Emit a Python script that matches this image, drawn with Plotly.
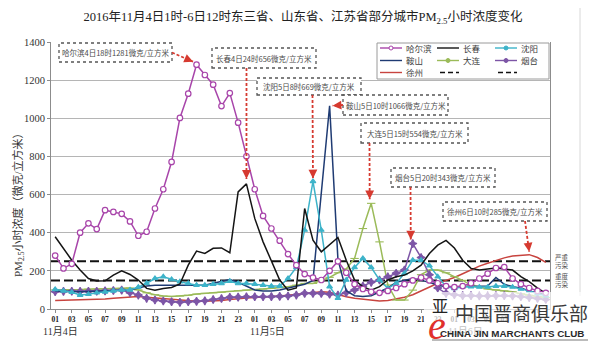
import plotly.graph_objects as go

# ---------------- data ----------------
# hour index 0 = 11月4日01时 ... 59 = 11月6日12时
hours = list(range(60))
tick_vals = list(range(0, 60, 2))
tick_text = [f"{h:02d}" for h in list(range(1, 24, 2)) + list(range(1, 24, 2)) + list(range(1, 12, 2))]
day_labels = ["11月4日", "11月5日", "11月6日"]
day_label_pos = [0.7, 25.5, 49.3]
day_label_colors = ["#333333", "#333333", "#C4C4C4"]  # the last one sits under the watermark

cities = ["哈尔滨", "长春", "沈阳", "鞍山", "大连", "烟台", "徐州"]

harbin = [280, 213, 237, 400, 449, 419, 518, 509, 499, 459, 384, 405, 527, 628, 771,
          1002, 1129, 1281, 1227, 1176, 1064, 1132, 977, 801, 628, 488, 422, 358, 288, 230,
          183, 165, 152, 200, 250, 190, 130, 105, 90, 85, 95, 110, 130, 150, 165,
          150, 135, 120, 115, 120, 135, 160, 185, 215, 220, 160, 130, 110, 95, 85]
changchun = [379, 318, 256, 204, 160, 147, 148, 178, 200, 181, 152, 108, 99, 108, 113,
             131, 230, 304, 291, 318, 320, 295, 614, 656, 475, 352, 248, 152, 99, 110,
             527, 361, 300, 335, 375, 256, 152, 117, 99, 117, 152, 169, 178, 200, 230,
             291, 335, 360, 320, 256, 213, 204, 210, 215, 210, 204, 170, 143, 110, 82]
shenyang = [103, 95, 88, 73, 77, 85, 90, 95, 100, 100, 115, 135, 160, 169, 155,
            143, 134, 125, 125, 130, 134, 146, 134, 134, 130, 125, 120, 120, 160, 218,
            414, 669, 414, 117, 57, 152, 218, 265, 218, 152, 108, 134, 187, 256, 256,
            227, 169, 117, 108, 117, 117, 115, 115, 120, 120, 115, 105, 95, 80, 70]
anshan = [95, 95, 92, 90, 92, 95, 95, 97, 100, 100, 110, 120, 125, 125, 125,
          125, 125, 122, 125, 135, 145, 155, 140, 118, 100, 95, 95, 100, 110, 120,
          130, 150, 600, 1066, 260, 95, 70, 65, 70, 90, 110, 140, 152, 160, 150,
          140, 125, 117, 117, 117, 117, 117, 120, 165, 130, 117, 110, 95, 85, 75]
dalian = [100, 100, 100, 102, 104, 105, 105, 107, 108, 110, 100, 85, 75, 68, 66,
          68, 72, 78, 82, 85, 88, 92, 96, 99, 102, 105, 108, 112, 117, 125,
          134, 134, 152, 166, 190, 210, 265, 422, 554, 352, 126, 47, 47, 99, 180,
          204, 204, 190, 170, 150, 125, 115, 105, 100, 95, 90, 80, 72, 65, 60]
yantai = [91, 92, 93, 92, 92, 93, 95, 97, 99, 85, 73, 56, 47, 42, 38,
          35, 38, 40, 43, 50, 55, 61, 62, 64, 64, 64, 65, 66, 68, 73,
          82, 82, 82, 78, 73, 85, 100, 120, 140, 152, 169, 187, 204, 343, 270,
          180, 110, 82, 75, 70, 70, 68, 68, 70, 70, 68, 65, 60, 55, 50]
xuzhou = [44, 45, 46, 47, 49, 51, 53, 56, 60, 63, 65, 62, 58, 54, 50,
          46, 43, 40, 40, 42, 45, 50, 55, 58, 60, 62, 64, 68, 72, 76,
          80, 85, 90, 88, 75, 64, 56, 50, 45, 42, 45, 52, 62, 75, 95,
          115, 135, 150, 165, 185, 205, 225, 240, 255, 268, 278, 283, 285, 270, 245]

series = [harbin, changchun, shenyang, anshan, dalian, yantai, xuzhou]

# pollution thresholds: 严重污染 / 重度污染
thresholds = [250, 150]
threshold_labels = ["严重<br>污染", "重度<br>污染"]

# ---------------- layout constants ----------------
W, H = 593, 350
L, R, T, B = 51, 43, 42, 41
PW, PH = W - L - R, H - T - B
XR = (-0.5, 59.5)
YR = (0, 1400)

SERIF = "Liberation Serif, Noto Sans CJK SC, serif"
SANS = "Noto Sans CJK SC, Liberation Sans, sans-serif"

colors = ["#A845AA", "#141414", "#3DB3C9", "#1F3B73", "#9BBB59", "#7D55A6", "#C8443F"]
symbols = ["circle-open", None, "triangle-up", None, "line-ew-open", "star-diamond", None]
msizes = [5.5, 0, 5, 0, 6, 6, 0]
ARROW = "#D63A30"


def pap_x(p):
    return (p - L) / PW


def pap_y(p):
    return (H - B - p) / PH


def data_px(i, v):
    x = L + (i - XR[0]) / (XR[1] - XR[0]) * PW
    y = H - B - (v - YR[0]) / (YR[1] - YR[0]) * PH
    return x, y


def text_at(xp, yp, text, font, **kw):
    d = dict(xref="paper", yref="paper", x=xp, y=yp, text=text, showarrow=False,
             xanchor="center", yanchor="middle", font=font)
    d.update(kw)
    return d


fig = go.Figure()

# threshold reference lines
for t in thresholds:
    fig.add_trace(go.Scatter(x=[XR[0], XR[1]], y=[t, t], mode="lines",
                             line=dict(color="#111111", width=2, dash="9px,4px"),
                             showlegend=False, hoverinfo="skip"))

# city series (Harbin drawn last so it sits on top)
order = [6, 4, 5, 3, 2, 1, 0]
for k in order:
    mode = "lines+markers" if symbols[k] else "lines"
    marker = dict(symbol=symbols[k], size=msizes[k], color=colors[k],
                  line=dict(color=colors[k], width=1.1)) if symbols[k] else None
    if symbols[k] == "circle-open":
        marker = dict(symbol="circle", size=msizes[k], color="white",
                      line=dict(color=colors[k], width=1.2))
    fig.add_trace(go.Scatter(x=hours, y=series[k], mode=mode, name=cities[k],
                             line=dict(color=colors[k], width=1.5),
                             marker=marker, showlegend=False))

shapes = []
annotations = []

# ---------------- peak call-outs ----------------
# box in pixels (x0, y0, x1, y1), arrow tail in pixels, tip offset from peak in pixels
callouts = [
    (0, (59, 43, 172, 62), (172, 52.5), (-3.5, -3)),
    (1, (212, 48, 316, 68), (246.5, 68), (0, -5)),
    (2, (257, 78, 361, 95), (312.5, 95), (0, -3)),
    (3, (343, 95, 448, 115), (343, 105), (3, 0)),
    (4, (361, 123, 468, 143), (369.5, 143), (-1.5, -4)),
    (5, (391, 168, 495, 187), (410.5, 187), (-2, -4)),
    (6, (443, 202, 547, 221), (525, 221), (0, -3)),
]
for k, box, tail, off in callouts:
    vals = series[k]
    vmax = max(vals)
    imax = vals.index(vmax)
    day = 4 + imax // 24
    hour = imax % 24 + 1
    label = f"{cities[k]}{day}日{hour}时{vmax}微克/立方米"
    bx0, by0, bx1, by1 = box
    shapes.append(dict(type="rect", xref="paper", yref="paper",
                       x0=pap_x(bx0), x1=pap_x(bx1), y0=pap_y(by1), y1=pap_y(by0),
                       line=dict(color="#555555", width=1.3, dash="dot"),
                       fillcolor="white", layer="above"))
    annotations.append(text_at(pap_x((bx0 + bx1) / 2), pap_y((by0 + by1) / 2), label,
                               dict(family=SANS, size=7.5, color="#4A4A4A")))
    px, py = data_px(imax, vmax)
    tipx, tipy = px + off[0], py + off[1]
    shapes.append(dict(type="line", xref="paper", yref="paper",
                       x0=pap_x(tail[0]), y0=pap_y(tail[1]),
                       x1=pap_x(tipx), y1=pap_y(tipy),
                       line=dict(color=ARROW, width=1.8, dash="3px,2px"), layer="above"))
    dx, dy = tail[0] - tipx, tail[1] - tipy
    n = (dx * dx + dy * dy) ** 0.5
    annotations.append(dict(xref="paper", yref="paper", x=pap_x(tipx), y=pap_y(tipy),
                            text="", showarrow=True, arrowhead=2, arrowsize=1.1,
                            arrowwidth=1.6, arrowcolor=ARROW, standoff=0,
                            ax=dx / n * 7, ay=dy / n * 7))

# ---------------- legend (3 x 3 grid) ----------------
shapes.append(dict(type="rect", xref="paper", yref="paper",
                   x0=pap_x(377), x1=pap_x(549), y0=pap_y(79), y1=pap_y(43),
                   line=dict(color="#9A9A9A", width=1), fillcolor="white", layer="above"))
col_x = [380, 437, 495]
row_y = [48, 60.5, 72.5]
entries = list(range(7)) + ["t0", "t1"]
for n_, e in enumerate(entries):
    cx, ry = col_x[n_ % 3], row_y[n_ // 3]
    if isinstance(e, int):
        shapes.append(dict(type="line", xref="paper", yref="paper",
                           x0=pap_x(cx), x1=pap_x(cx + 22), y0=pap_y(ry), y1=pap_y(ry),
                           line=dict(color=colors[e], width=1.4), layer="above"))
        if symbols[e]:
            mc = pap_x(cx + 11), pap_y(ry)
            shapes.append(dict(type="circle", xref="paper", yref="paper",
                               xsizemode="pixel", ysizemode="pixel",
                               xanchor=mc[0], yanchor=mc[1], x0=-2, x1=2, y0=-2, y1=2,
                               line=dict(color=colors[e], width=1),
                               fillcolor="white" if e == 0 else colors[e], layer="above"))
        annotations.append(text_at(pap_x(cx + 24), pap_y(ry), cities[e],
                                   dict(family=SANS, size=8.5, color="#404040"),
                                   xanchor="left"))
    else:
        shapes.append(dict(type="line", xref="paper", yref="paper",
                           x0=pap_x(cx + 3), x1=pap_x(cx + 22), y0=pap_y(ry), y1=pap_y(ry),
                           line=dict(color="#111111", width=1.6, dash="5px,3px"), layer="above"))

# threshold labels on the right
for t, lab in zip(thresholds, threshold_labels):
    annotations.append(dict(xref="paper", yref="y", x=pap_x(553), y=t, xanchor="left",
                            yanchor="middle", text=lab, showarrow=False, align="left",
                            font=dict(family=SANS, size=6.5, color="#505050")))

# date labels under the hour ticks
for lab, xp, c in zip(day_labels, day_label_pos, day_label_colors):
    annotations.append(dict(xref="x", yref="paper", x=xp, y=pap_y(331), text=lab,
                            xanchor="center", yanchor="middle", showarrow=False,
                            font=dict(family=SERIF, size=10, color=c)))

# y axis title
annotations.append(text_at(pap_x(18), pap_y(202),
                           "PM<sub>2.5</sub>小时浓度（微克/立方米）",
                           dict(family=SERIF, size=11, color="#333333"), textangle=-90))

# outer frame line on the right
shapes.append(dict(type="line", xref="paper", yref="paper", x0=pap_x(580), x1=pap_x(580),
                   y0=pap_y(8), y1=pap_y(296), line=dict(color="#D8D8D8", width=1)))

# watermark
shapes.append(dict(type="rect", xref="paper", yref="paper", x0=pap_x(424), x1=pap_x(588),
                   y0=pap_y(339), y1=pap_y(292), line=dict(width=0),
                   fillcolor="rgba(255,255,255,0.7)", layer="above"))
shapes.append(dict(type="line", xref="paper", yref="paper", x0=pap_x(432), x1=pap_x(588),
                   y0=pap_y(340), y1=pap_y(340), line=dict(color="#BBBBBB", width=2), layer="above"))
annotations.append(text_at(pap_x(521), pap_y(312), "中国晋商俱乐部",
                           dict(family=SANS, size=19, color="#3A3A3A")))
annotations.append(text_at(pap_x(512), pap_y(333), "<b>CHINA JIN MARCHANTS CLUB</b>",
                           dict(family="Liberation Sans", size=9.8, color="#2A2A2A")))
annotations.append(text_at(pap_x(437), pap_y(325), "<i>e</i>",
                           dict(family="Liberation Serif", size=40, color="#E0302B")))
annotations.append(text_at(pap_x(440), pap_y(305), "亚",
                           dict(family=SANS, size=16, color="#222222")))

fig.update_layout(
    width=W, height=H,
    margin=dict(l=L, r=R, t=T, b=B),
    paper_bgcolor="white", plot_bgcolor="white",
    title=dict(text="2016年11月4日1时-6日12时东三省、山东省、江苏省部分城市PM<sub>2.5</sub>小时浓度变化",
               x=303 / W, xanchor="center", y=1 - 17 / H, yanchor="middle",
               yref="container", font=dict(family=SERIF, size=12.5, color="#222222")),
    showlegend=False,
    shapes=shapes,
    annotations=annotations,
    xaxis=dict(range=list(XR), tickmode="array", tickvals=tick_vals, ticktext=tick_text,
               showgrid=False, zeroline=False, showline=True, linecolor="#8C8C8C",
               ticks="outside", ticklen=3, tickcolor="#8C8C8C",
               tickfont=dict(family=SERIF, size=7.5, color="#222222", weight="bold")),
    yaxis=dict(range=list(YR), tickmode="linear", tick0=0, dtick=200,
               showgrid=True, gridcolor="#B5B5B5", gridwidth=1, zeroline=False,
               showline=True, linecolor="#8C8C8C", mirror=True,
               ticks="outside", ticklen=3, tickcolor="#8C8C8C",
               tickfont=dict(family=SERIF, size=10.5, color="#333333")),
)

fig.write_html("out.html")
